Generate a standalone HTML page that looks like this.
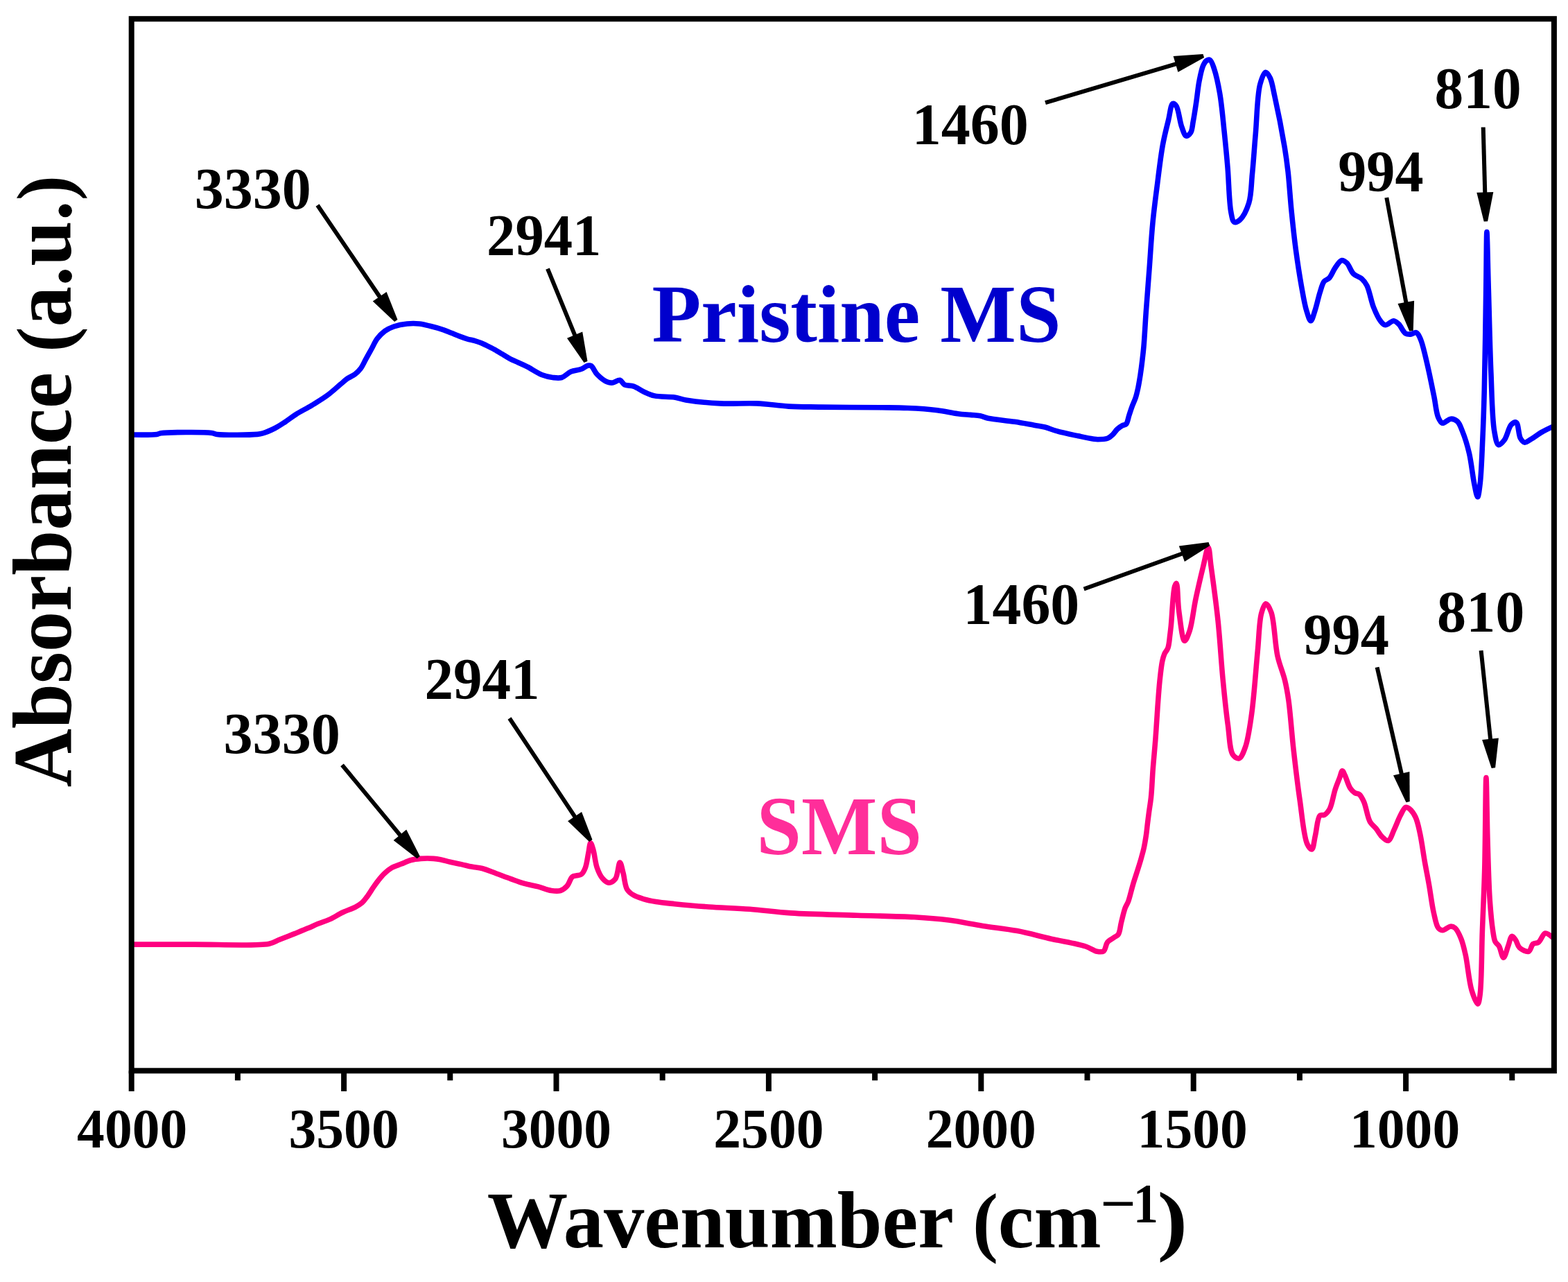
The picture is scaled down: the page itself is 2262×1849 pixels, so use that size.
<!DOCTYPE html>
<html><head><meta charset="utf-8"><title>FTIR spectra</title>
<style>html,body{margin:0;padding:0;background:#fff;overflow:hidden;}svg{display:block;}</style>
</head><body>
<svg width="2262" height="1849" viewBox="0 0 2262 1849"><rect x="0" y="0" width="2262" height="1849" fill="#fff"/>
<path d="M190.6,627.0 C190.6,627.0 219.7,627.4 226.4,626.4 C229.1,626.0 229.0,625.2 232.0,624.8 C242.6,623.3 293.7,622.9 305.5,624.4 C309.3,624.9 309.3,625.9 313.0,626.4 C323.2,627.7 361.0,627.4 371.4,626.4 C375.2,626.0 376.1,625.8 379.2,624.9 C384.0,623.5 391.3,620.3 396.8,617.5 C401.9,614.9 406.3,611.9 411.2,608.7 C416.4,605.3 421.3,601.2 427.2,597.5 C434.0,593.2 442.2,589.2 449.6,584.7 C457.1,580.1 465.1,575.5 472.1,570.3 C478.9,565.3 486.0,558.6 491.3,554.2 C495.0,551.1 497.5,548.6 500.9,546.2 C504.4,543.8 508.8,542.3 512.1,539.8 C515.2,537.5 517.6,535.1 520.1,531.8 C523.1,527.9 525.4,522.2 528.1,517.4 C530.8,512.6 533.4,507.8 536.1,503.0 C538.8,498.2 540.9,492.9 544.1,488.6 C547.3,484.4 551.2,480.4 555.3,477.4 C559.2,474.6 563.3,472.7 568.1,471.0 C573.7,469.0 581.0,467.6 587.3,467.0 C593.3,466.4 599.2,466.4 604.9,467.0 C610.3,467.6 615.0,469.0 620.5,470.3 C626.7,471.8 634.4,473.9 640.0,475.8 C644.3,477.3 647.5,478.8 651.3,480.3 C655.1,481.8 658.8,483.5 662.6,484.9 C666.3,486.3 670.1,487.7 673.9,488.8 C677.6,489.9 681.7,490.6 685.2,491.6 C688.3,492.5 690.9,493.4 693.7,494.5 C696.5,495.6 699.1,497.0 702.1,498.4 C705.6,500.1 709.7,502.1 713.4,504.1 C717.2,506.2 720.9,508.6 724.7,510.8 C728.5,513.1 732.2,515.6 736.0,517.6 C739.7,519.5 743.4,520.9 747.3,522.7 C751.4,524.6 755.2,526.2 760.0,528.6 C766.4,531.9 775.3,538.1 782.2,540.8 C787.6,542.9 792.4,543.9 797.3,544.5 C801.8,545.0 806.3,545.7 810.5,544.5 C815.1,543.1 818.9,538.0 823.6,536.0 C828.3,534.0 834.4,534.0 838.7,532.3 C842.3,530.9 845.4,527.8 848.1,527.2 C849.9,526.8 851.2,526.7 852.8,527.6 C855.6,529.2 857.7,536.1 861.3,539.8 C865.4,544.0 872.0,549.3 876.4,551.1 C879.2,552.2 881.2,552.3 883.9,552.0 C887.1,551.6 891.4,547.6 894.3,548.3 C897.0,548.9 898.0,553.4 900.9,554.9 C904.3,556.7 909.6,555.6 914.0,557.1 C919.0,558.8 924.0,562.9 929.1,565.2 C934.1,567.5 938.2,569.6 944.2,570.9 C952.2,572.7 964.8,571.7 973.0,573.0 C979.3,574.0 982.4,575.7 989.4,576.9 C1001.4,578.9 1022.1,581.1 1038.9,581.9 C1056.2,582.8 1074.6,581.1 1091.6,581.9 C1107.5,582.6 1122.4,585.2 1137.8,586.1 C1153.2,587.0 1166.2,586.8 1183.9,587.1 C1208.1,587.5 1246.5,587.5 1269.6,587.8 C1285.3,588.0 1295.8,587.9 1309.2,588.5 C1323.2,589.1 1339.1,590.1 1352.0,591.7 C1362.8,593.0 1373.0,595.6 1381.7,596.7 C1388.5,597.6 1394.3,597.9 1400.0,598.4 C1405.0,598.9 1409.7,598.9 1414.1,599.8 C1418.1,600.6 1420.5,602.2 1425.4,603.3 C1434.3,605.2 1451.8,606.5 1463.6,608.3 C1473.7,609.8 1483.8,611.8 1491.8,613.2 C1497.7,614.3 1502.1,614.7 1507.3,616.0 C1512.9,617.4 1517.7,619.9 1524.3,621.7 C1533.1,624.2 1546.0,626.8 1555.4,628.8 C1563.1,630.4 1571.4,632.2 1576.6,633.0 C1579.6,633.4 1580.9,633.7 1583.6,633.7 C1587.5,633.7 1593.9,633.7 1597.7,632.3 C1600.6,631.2 1602.6,629.4 1604.8,627.3 C1607.3,625.0 1609.4,621.2 1611.9,618.9 C1614.1,616.9 1616.6,615.2 1618.9,613.9 C1620.8,612.8 1623.1,613.2 1624.6,611.6 C1626.8,609.2 1627.4,603.3 1628.8,599.1 C1630.2,594.9 1631.5,590.6 1633.1,586.4 C1634.7,582.1 1636.8,578.1 1638.2,573.7 C1639.7,569.1 1640.7,564.6 1641.8,559.5 C1643.0,553.8 1644.0,547.5 1645.0,541.2 C1646.0,534.4 1647.0,527.0 1647.8,520.0 C1648.6,513.1 1649.3,507.7 1650.0,499.4 C1651.1,486.7 1652.0,468.3 1653.2,451.0 C1654.6,431.0 1656.5,408.0 1658.1,386.5 C1659.7,365.0 1660.9,342.5 1662.9,321.9 C1664.7,302.9 1667.0,285.6 1669.4,267.1 C1671.8,248.0 1674.3,225.9 1677.4,209.0 C1679.8,195.7 1682.9,184.2 1685.5,173.5 C1687.7,164.7 1688.9,150.5 1691.9,149.4 C1693.3,148.8 1695.3,150.5 1696.8,152.6 C1700.3,157.4 1701.8,175.3 1704.8,183.2 C1706.8,188.5 1708.7,195.5 1711.3,196.1 C1713.2,196.5 1716.1,193.8 1717.7,191.3 C1720.0,187.7 1720.1,181.2 1721.3,175.0 C1722.8,167.1 1724.3,157.0 1725.7,147.6 C1727.2,137.7 1728.2,126.2 1730.0,116.9 C1731.6,108.9 1733.2,100.3 1735.5,95.0 C1737.0,91.7 1738.5,88.8 1740.5,87.5 C1742.0,86.5 1744.0,85.7 1745.5,86.5 C1748.0,87.8 1749.7,93.9 1751.6,99.4 C1754.6,108.2 1757.4,121.6 1759.7,134.8 C1762.5,151.0 1764.2,171.7 1766.1,189.7 C1767.9,207.2 1769.5,223.1 1771.0,241.3 C1772.7,261.6 1773.1,292.1 1775.8,305.8 C1777.1,312.5 1777.9,319.0 1780.6,320.3 C1782.7,321.3 1786.1,319.4 1788.7,317.1 C1793.3,313.0 1798.6,302.4 1801.6,292.9 C1805.3,281.1 1805.0,266.1 1806.5,251.0 C1808.3,233.2 1809.5,213.2 1811.3,192.9 C1813.2,170.4 1813.6,137.4 1817.7,121.9 C1819.9,113.8 1822.9,104.6 1825.8,104.2 C1827.9,103.9 1830.5,108.6 1832.3,112.3 C1835.2,118.3 1836.3,127.2 1838.7,138.0 C1842.8,156.3 1849.8,192.0 1853.2,212.3 C1855.5,226.2 1856.6,234.6 1858.1,247.7 C1859.9,264.0 1861.1,284.1 1862.9,302.6 C1864.8,321.7 1866.9,341.8 1869.4,360.6 C1871.8,378.4 1874.6,396.7 1877.4,412.3 C1879.8,425.4 1881.9,439.0 1884.8,448.2 C1886.7,454.2 1888.9,462.7 1890.9,462.7 C1892.9,462.7 1895.0,453.8 1896.9,448.2 C1899.5,440.7 1901.7,429.3 1904.2,421.6 C1906.2,415.6 1907.4,409.4 1910.2,405.9 C1912.2,403.4 1915.2,403.4 1917.5,401.0 C1920.6,397.7 1922.9,390.9 1926.0,386.5 C1928.9,382.5 1932.4,376.2 1935.6,375.6 C1938.0,375.1 1940.6,377.2 1942.9,379.3 C1946.4,382.5 1948.6,391.1 1952.6,395.0 C1956.1,398.4 1961.4,399.2 1964.7,402.2 C1967.7,404.9 1969.7,407.5 1971.9,411.9 C1975.6,419.2 1977.9,434.3 1981.6,443.4 C1984.6,450.8 1987.8,458.3 1991.3,462.7 C1993.6,465.6 1995.7,468.5 1998.5,468.8 C2001.9,469.2 2007.1,462.5 2010.6,462.7 C2013.4,462.9 2015.5,465.3 2017.9,467.6 C2021.2,470.8 2024.1,478.8 2027.6,480.9 C2029.9,482.3 2032.3,482.2 2034.8,482.1 C2037.5,481.9 2041.0,478.8 2043.3,479.7 C2045.9,480.7 2047.4,484.9 2049.3,489.3 C2052.8,497.4 2055.9,512.7 2059.0,525.6 C2062.4,540.0 2065.9,557.9 2068.7,571.6 C2071.0,582.7 2071.8,595.0 2074.7,601.8 C2076.4,605.8 2078.1,609.6 2080.8,610.3 C2083.9,611.1 2089.1,604.4 2092.9,604.2 C2096.2,604.0 2099.9,605.5 2102.5,607.9 C2105.8,610.9 2107.4,616.5 2109.8,622.4 C2113.2,630.8 2116.8,642.4 2119.5,653.8 C2122.6,667.0 2124.3,685.8 2126.7,697.4 C2128.3,705.2 2130.2,716.7 2131.6,716.7 C2133.0,716.7 2134.2,705.7 2135.2,697.4 C2137.0,682.5 2137.8,656.2 2138.8,634.5 C2139.9,611.2 2140.6,590.3 2141.3,561.9 C2142.3,521.8 2143.1,458.4 2143.7,416.8 C2144.2,385.5 2144.3,334.5 2144.9,334.5 C2145.5,334.5 2146.4,386.7 2147.3,416.8 C2148.4,453.2 2149.3,501.0 2150.9,537.7 C2152.2,568.4 2152.5,604.3 2155.8,622.4 C2157.4,631.2 2158.8,640.8 2161.8,641.7 C2164.1,642.4 2167.7,637.9 2170.3,634.5 C2174.1,629.5 2176.2,616.7 2180.0,612.7 C2182.2,610.4 2185.2,608.2 2187.2,609.1 C2190.6,610.6 2190.5,627.0 2193.3,632.0 C2195.0,635.0 2196.9,637.7 2199.3,638.1 C2202.0,638.6 2205.5,635.3 2209.0,633.3 C2213.4,630.7 2218.4,626.6 2223.5,623.6 C2228.8,620.5 2240.4,615.1 2240.4,615.1" fill="none" stroke="#0000FF" stroke-width="7.6" stroke-linejoin="round" stroke-linecap="round"/>
<path d="M190.6,1362.1 C190.6,1362.1 248.1,1362.2 279.2,1362.1 C313.7,1362.0 369.1,1364.9 388.2,1361.2 C395.3,1359.8 397.2,1357.7 402.4,1355.6 C408.8,1353.1 416.5,1349.9 423.6,1347.1 C430.6,1344.3 438.4,1341.3 444.7,1338.6 C449.9,1336.4 453.9,1334.3 458.9,1332.3 C464.3,1330.1 470.1,1328.5 475.8,1325.9 C481.9,1323.1 488.0,1319.0 494.2,1316.0 C500.2,1313.1 507.4,1311.0 512.5,1308.3 C516.4,1306.2 519.5,1304.4 522.4,1301.9 C525.2,1299.4 527.1,1296.6 529.5,1293.4 C532.3,1289.7 535.3,1284.7 538.0,1280.7 C540.4,1277.2 542.4,1274.1 545.0,1270.8 C547.9,1267.1 551.4,1262.8 554.9,1259.5 C558.1,1256.5 561.0,1254.0 564.8,1251.8 C568.9,1249.4 574.2,1248.0 578.9,1246.1 C583.6,1244.2 588.2,1241.8 593.0,1240.5 C597.7,1239.2 602.2,1238.8 607.2,1238.4 C612.9,1238.0 620.3,1238.0 625.5,1238.4 C629.3,1238.7 631.8,1239.1 635.4,1239.8 C639.7,1240.6 644.6,1242.2 649.5,1243.3 C654.7,1244.5 660.3,1245.4 665.5,1246.6 C670.6,1247.7 675.5,1249.1 680.5,1250.1 C685.5,1251.1 690.2,1251.1 695.6,1252.5 C702.0,1254.2 709.4,1257.5 716.3,1260.0 C723.2,1262.5 730.2,1265.2 737.0,1267.6 C743.4,1269.9 749.4,1272.3 755.9,1274.2 C762.6,1276.1 769.9,1277.1 776.6,1278.9 C783.0,1280.6 789.6,1283.7 795.4,1284.5 C800.1,1285.2 804.7,1285.7 808.6,1284.5 C812.2,1283.4 815.3,1280.9 818.0,1277.9 C821.1,1274.5 822.7,1267.0 825.5,1264.7 C827.3,1263.3 829.2,1263.5 831.2,1262.9 C833.5,1262.2 836.6,1262.5 838.7,1261.0 C841.2,1259.2 842.8,1255.6 844.4,1251.6 C846.7,1245.8 847.7,1235.5 849.1,1229.0 C850.1,1224.0 850.7,1215.9 851.9,1215.8 C853.0,1215.7 854.5,1221.2 855.7,1225.2 C857.7,1231.7 858.7,1244.2 861.3,1251.6 C863.4,1257.5 865.7,1262.9 868.9,1266.6 C871.6,1269.7 875.1,1273.1 878.3,1273.2 C881.4,1273.3 885.2,1270.8 887.7,1267.6 C891.4,1262.8 892.2,1244.0 894.3,1244.0 C896.0,1244.0 897.5,1253.5 899.0,1259.1 C900.9,1266.0 901.3,1277.0 904.6,1282.6 C907.0,1286.6 910.2,1288.8 914.0,1291.1 C918.2,1293.7 923.9,1295.2 929.1,1296.8 C934.5,1298.4 939.8,1299.4 946.1,1300.5 C954.0,1301.8 962.7,1302.6 973.0,1303.7 C987.0,1305.1 1005.2,1306.8 1022.4,1308.0 C1041.3,1309.3 1061.9,1309.8 1081.7,1311.3 C1101.5,1312.8 1118.9,1315.5 1141.1,1316.9 C1169.1,1318.7 1205.9,1319.2 1236.6,1320.2 C1265.1,1321.1 1295.0,1321.4 1319.0,1322.8 C1337.6,1323.9 1352.0,1325.0 1368.5,1327.1 C1385.0,1329.2 1401.4,1332.8 1417.9,1335.4 C1434.4,1338.0 1451.0,1339.5 1467.4,1342.6 C1483.9,1345.7 1500.3,1350.5 1516.8,1354.2 C1533.3,1357.9 1554.3,1361.1 1566.2,1365.0 C1573.3,1367.3 1577.9,1371.4 1582.7,1372.3 C1586.2,1372.9 1589.7,1373.5 1592.1,1371.8 C1595.0,1369.8 1595.0,1362.3 1597.7,1358.9 C1600.2,1355.7 1604.8,1353.9 1607.6,1351.8 C1609.8,1350.2 1611.8,1349.9 1613.3,1347.6 C1615.7,1344.1 1616.0,1336.6 1617.5,1330.6 C1619.2,1323.9 1621.1,1315.0 1623.2,1309.4 C1624.6,1305.6 1626.2,1304.0 1627.7,1300.0 C1630.0,1293.8 1632.2,1283.2 1634.6,1275.3 C1636.8,1267.8 1639.4,1260.5 1641.5,1253.7 C1643.4,1247.6 1645.2,1241.8 1646.7,1236.4 C1648.0,1231.8 1649.1,1228.1 1650.1,1223.5 C1651.3,1218.2 1652.3,1212.0 1653.2,1206.2 C1654.1,1200.4 1654.6,1194.7 1655.3,1188.9 C1656.0,1183.1 1656.7,1177.7 1657.5,1171.6 C1658.4,1164.8 1659.6,1158.3 1660.5,1150.0 C1661.7,1138.7 1662.2,1123.5 1663.2,1109.7 C1664.3,1095.1 1665.9,1079.8 1667.0,1064.8 C1668.1,1049.8 1669.0,1034.2 1670.0,1019.9 C1671.0,1006.8 1671.8,994.0 1673.0,982.4 C1674.1,972.2 1675.2,961.0 1676.7,953.9 C1677.6,949.5 1678.3,946.7 1679.7,943.4 C1681.1,940.2 1683.6,938.2 1684.9,934.5 C1686.7,929.4 1687.1,920.7 1687.9,915.0 C1688.5,910.5 1688.7,908.4 1689.3,902.9 C1690.6,890.9 1692.0,853.8 1694.6,845.7 C1695.4,843.3 1696.4,841.2 1697.1,841.4 C1699.2,841.9 1698.8,867.9 1700.7,881.4 C1702.7,895.5 1705.4,923.8 1708.9,924.3 C1711.0,924.6 1713.9,916.3 1716.1,910.0 C1719.8,899.1 1721.7,879.0 1725.0,863.6 C1728.3,848.1 1732.4,830.6 1735.7,817.1 C1738.3,806.7 1741.1,789.4 1743.0,789.5 C1744.9,789.6 1745.5,805.5 1747.1,817.1 C1749.8,836.6 1754.3,868.9 1757.1,895.7 C1760.0,923.6 1761.7,954.9 1764.3,981.4 C1766.5,1004.4 1768.7,1026.5 1771.4,1045.7 C1773.6,1061.5 1773.7,1081.5 1778.6,1088.6 C1781.0,1092.1 1784.8,1094.6 1787.5,1093.9 C1791.0,1093.0 1793.9,1084.9 1796.4,1077.9 C1800.5,1066.7 1802.8,1049.6 1805.4,1031.4 C1809.1,1005.8 1811.7,965.3 1814.3,938.6 C1816.3,918.3 1816.4,897.0 1819.6,885.0 C1821.3,878.5 1823.7,870.9 1826.1,870.7 C1828.5,870.5 1831.7,877.1 1833.9,883.2 C1838.5,895.8 1839.0,927.9 1842.9,945.7 C1845.9,959.4 1850.9,970.1 1853.6,981.4 C1856.0,991.4 1857.2,998.3 1858.9,1010.0 C1861.5,1028.4 1863.4,1057.6 1866.1,1081.4 C1868.8,1105.2 1871.6,1129.7 1875.0,1152.9 C1878.2,1174.9 1880.7,1206.3 1885.7,1217.1 C1887.7,1221.4 1890.6,1225.4 1892.4,1225.0 C1895.0,1224.4 1895.7,1212.1 1897.5,1204.8 C1899.6,1196.1 1900.3,1179.9 1904.1,1176.3 C1905.9,1174.6 1908.6,1176.4 1910.7,1175.2 C1913.4,1173.7 1916.1,1170.5 1918.3,1166.5 C1921.7,1160.2 1923.4,1147.2 1926.0,1139.1 C1928.1,1132.6 1930.7,1126.6 1932.6,1121.6 C1934.1,1117.8 1935.1,1111.8 1936.5,1111.7 C1937.7,1111.6 1938.8,1115.5 1940.2,1118.3 C1942.4,1122.9 1945.0,1132.5 1947.9,1136.9 C1949.9,1139.9 1952.0,1142.0 1954.4,1143.5 C1956.5,1144.8 1959.0,1144.1 1961.0,1145.7 C1963.6,1147.8 1965.5,1151.9 1967.6,1156.6 C1970.8,1163.7 1972.5,1178.3 1976.3,1185.1 C1978.8,1189.6 1982.2,1191.5 1985.1,1195.0 C1988.1,1198.7 1990.7,1204.0 1993.9,1207.0 C1996.6,1209.5 2000.0,1213.2 2002.6,1212.5 C2006.1,1211.6 2008.6,1201.9 2011.4,1196.1 C2014.4,1189.9 2017.1,1182.0 2020.1,1176.3 C2022.6,1171.7 2025.1,1165.2 2027.8,1164.3 C2029.6,1163.7 2031.5,1165.1 2033.3,1166.5 C2036.2,1168.8 2039.6,1173.5 2042.0,1178.5 C2045.1,1184.9 2046.6,1193.5 2048.6,1202.6 C2051.1,1214.1 2053.0,1229.3 2055.2,1242.0 C2057.3,1254.0 2059.6,1265.1 2061.7,1277.1 C2063.9,1289.8 2065.7,1305.4 2068.3,1316.5 C2070.3,1324.9 2071.7,1334.5 2074.9,1338.4 C2076.7,1340.6 2078.9,1341.7 2081.4,1341.7 C2084.6,1341.7 2089.2,1336.4 2092.4,1336.2 C2094.8,1336.0 2096.9,1336.7 2099.0,1338.4 C2102.3,1341.1 2105.3,1347.9 2107.7,1353.7 C2110.6,1360.7 2112.2,1368.2 2114.3,1377.8 C2117.3,1391.5 2119.1,1415.4 2123.0,1428.1 C2125.5,1436.4 2129.7,1448.1 2131.8,1447.9 C2133.4,1447.8 2134.2,1441.2 2135.1,1434.7 C2137.5,1417.9 2137.3,1373.1 2138.4,1342.8 C2139.5,1313.2 2140.8,1287.5 2141.7,1255.2 C2142.8,1215.4 2143.1,1121.6 2143.9,1121.6 C2144.6,1121.6 2145.1,1181.7 2146.0,1211.4 C2146.9,1240.8 2147.6,1274.8 2149.3,1299.0 C2150.5,1316.1 2152.0,1332.0 2153.7,1342.8 C2154.7,1349.2 2155.1,1354.2 2157.0,1358.1 C2158.4,1361.0 2160.8,1361.8 2162.5,1364.7 C2164.9,1368.8 2166.8,1381.1 2169.0,1381.1 C2171.2,1381.1 2173.5,1370.0 2175.6,1364.7 C2177.5,1359.8 2178.9,1350.9 2181.1,1350.4 C2182.7,1350.1 2184.9,1353.6 2186.5,1355.9 C2188.6,1358.8 2189.1,1364.1 2192.0,1366.8 C2195.1,1369.7 2201.9,1373.4 2205.2,1372.3 C2208.3,1371.3 2208.9,1363.5 2211.7,1361.4 C2213.9,1359.7 2217.0,1360.9 2219.4,1359.2 C2222.9,1356.8 2225.5,1346.8 2229.2,1346.0 C2232.2,1345.3 2239.1,1351.5 2239.1,1351.5" fill="none" stroke="#FF0080" stroke-width="7.6" stroke-linejoin="round" stroke-linecap="round"/>
<rect x="189.7" y="27.2" width="2052.2" height="1517.1" fill="none" stroke="#000" stroke-width="8.0" stroke-linejoin="miter"/>
<g stroke="#000" stroke-width="8.0" stroke-linecap="butt"><line x1="189.7" y1="1544.3" x2="189.7" y2="1573.9"/><line x1="342.9" y1="1544.3" x2="342.9" y2="1558.3"/><line x1="496.1" y1="1544.3" x2="496.1" y2="1573.9"/><line x1="649.3" y1="1544.3" x2="649.3" y2="1558.3"/><line x1="802.5" y1="1544.3" x2="802.5" y2="1573.9"/><line x1="955.7" y1="1544.3" x2="955.7" y2="1558.3"/><line x1="1108.9" y1="1544.3" x2="1108.9" y2="1573.9"/><line x1="1262.1" y1="1544.3" x2="1262.1" y2="1558.3"/><line x1="1415.3" y1="1544.3" x2="1415.3" y2="1573.9"/><line x1="1568.5" y1="1544.3" x2="1568.5" y2="1558.3"/><line x1="1721.7" y1="1544.3" x2="1721.7" y2="1573.9"/><line x1="1874.9" y1="1544.3" x2="1874.9" y2="1558.3"/><line x1="2028.1" y1="1544.3" x2="2028.1" y2="1573.9"/><line x1="2181.3" y1="1544.3" x2="2181.3" y2="1558.3"/></g>
<text font-family="'Liberation Serif', serif" font-weight="bold" font-size="80" fill="#000" transform="translate(111.09,1654.65) scale(0.9950,1)">4000</text><text font-family="'Liberation Serif', serif" font-weight="bold" font-size="80" fill="#000" transform="translate(416.50,1654.65) scale(0.9950,1)">3500</text><text font-family="'Liberation Serif', serif" font-weight="bold" font-size="80" fill="#000" transform="translate(722.90,1654.65) scale(0.9950,1)">3000</text><text font-family="'Liberation Serif', serif" font-weight="bold" font-size="80" fill="#000" transform="translate(1029.30,1654.65) scale(0.9950,1)">2500</text><text font-family="'Liberation Serif', serif" font-weight="bold" font-size="80" fill="#000" transform="translate(1335.70,1654.65) scale(0.9950,1)">2000</text><text font-family="'Liberation Serif', serif" font-weight="bold" font-size="80" fill="#000" transform="translate(1640.61,1654.65) scale(0.9950,1)">1500</text><text font-family="'Liberation Serif', serif" font-weight="bold" font-size="80" fill="#000" transform="translate(1947.01,1654.65) scale(0.9950,1)">1000</text>
<text font-family="'Liberation Serif', serif" font-weight="bold" font-size="84" fill="#000" transform="translate(280.70,301.40) scale(1.0006,1)">3330</text>
<text font-family="'Liberation Serif', serif" font-weight="bold" font-size="84" fill="#000" transform="translate(702.06,368.00) scale(0.9844,1)">2941</text>
<text font-family="'Liberation Serif', serif" font-weight="bold" font-size="84" fill="#000" transform="translate(1315.70,207.70) scale(1.0006,1)">1460</text>
<text font-family="'Liberation Serif', serif" font-weight="bold" font-size="84" fill="#000" transform="translate(1930.24,275.85) scale(0.9787,1)">994</text>
<text font-family="'Liberation Serif', serif" font-weight="bold" font-size="84" fill="#000" transform="translate(2069.52,155.75) scale(0.9925,1)">810</text>
<text font-family="'Liberation Serif', serif" font-weight="bold" font-size="84" fill="#000" transform="translate(322.39,1086.85) scale(1.0031,1)">3330</text>
<text font-family="'Liberation Serif', serif" font-weight="bold" font-size="84" fill="#000" transform="translate(612.44,1008.25) scale(0.9888,1)">2941</text>
<text font-family="'Liberation Serif', serif" font-weight="bold" font-size="84" fill="#000" transform="translate(1389.62,900.00) scale(0.9975,1)">1460</text>
<text font-family="'Liberation Serif', serif" font-weight="bold" font-size="84" fill="#000" transform="translate(1880.34,943.65) scale(0.9803,1)">994</text>
<text font-family="'Liberation Serif', serif" font-weight="bold" font-size="84" fill="#000" transform="translate(2073.09,911.35) scale(1.0017,1)">810</text>
<text font-family="'Liberation Serif', serif" font-weight="bold" font-size="119" fill="#0000CD" transform="translate(940.45,492.90) scale(0.9758,1)">Pristine MS</text>
<text font-family="'Liberation Serif', serif" font-weight="bold" font-size="120" fill="#FF2E9A" transform="translate(1091.60,1232.30) scale(0.9665,1)">SMS</text>
<text font-family="'Liberation Serif', serif" font-weight="bold" font-size="117.3" fill="#000" transform="translate(702.81,1798.50) scale(0.9932,1)">Wavenumber <tspan font-size="111.7">(</tspan>cm</text>
<text font-family="'Liberation Serif', serif" font-weight="bold" font-size="80" fill="#000" transform="translate(1587.16,1763.05) scale(1.1351,1)">−</text>
<text font-family="'Liberation Serif', serif" font-weight="bold" font-size="80" fill="#000" transform="translate(1634.86,1763.45) scale(0.9067,1)">1</text>
<text font-family="'Liberation Serif', serif" font-weight="bold" font-size="111.7" fill="#000" transform="translate(1669.40,1797.35) scale(1.1750,1)">)</text>
<text font-family="'Liberation Serif', serif" font-weight="bold" font-size="119.8" fill="#000" transform="translate(101.6,1135.48) rotate(-90) scale(0.9773,1)">Absorbance <tspan font-size="111.7">(</tspan>a.u.<tspan font-size="111.7">)</tspan></text>
<line x1="458.0" y1="296.0" x2="557.1" y2="441.8" stroke="#000" stroke-width="6.0"/><polygon points="537.8,434.6 569.1,464.1 573.5,461.1 557.6,421.1" fill="#000"/><line x1="790.0" y1="387.6" x2="835.5" y2="498.7" stroke="#000" stroke-width="6.0"/><polygon points="818.0,487.7 842.5,523.0 847.5,521.0 840.2,478.6" fill="#000"/><line x1="1508.0" y1="148.2" x2="1712.1" y2="87.7" stroke="#000" stroke-width="6.0"/><polygon points="1699.4,103.9 1737.1,83.1 1735.5,77.9 1692.6,80.9" fill="#000"/><line x1="2000.3" y1="285.0" x2="2031.4" y2="452.4" stroke="#000" stroke-width="6.0"/><polygon points="2016.5,438.1 2033.3,477.7 2038.7,476.7 2040.1,433.7" fill="#000"/><line x1="2139.7" y1="183.5" x2="2142.7" y2="294.2" stroke="#000" stroke-width="6.0"/><polygon points="2130.3,277.7 2140.7,319.5 2146.1,319.3 2154.3,277.1" fill="#000"/><line x1="493.5" y1="1103.3" x2="587.6" y2="1217.2" stroke="#000" stroke-width="6.0"/><polygon points="567.7,1211.9 601.6,1238.3 605.8,1234.9 586.2,1196.6" fill="#000"/><line x1="735.0" y1="1036.0" x2="838.4" y2="1191.6" stroke="#000" stroke-width="6.0"/><polygon points="819.1,1184.3 850.1,1214.1 854.5,1211.1 839.1,1171.0" fill="#000"/><line x1="1563.6" y1="849.5" x2="1720.7" y2="793.0" stroke="#000" stroke-width="6.0"/><polygon points="1708.9,810.0 1745.3,787.0 1743.5,782.0 1700.8,787.4" fill="#000"/><line x1="1986.6" y1="962.4" x2="2025.5" y2="1132.0" stroke="#000" stroke-width="6.0"/><polygon points="2010.0,1118.3 2028.5,1157.2 2033.7,1156.0 2033.4,1113.0" fill="#000"/><line x1="2136.6" y1="938.2" x2="2151.8" y2="1082.5" stroke="#000" stroke-width="6.0"/><polygon points="2138.1,1067.1 2151.7,1107.9 2157.1,1107.3 2161.9,1064.6" fill="#000"/></svg>
</body></html>
